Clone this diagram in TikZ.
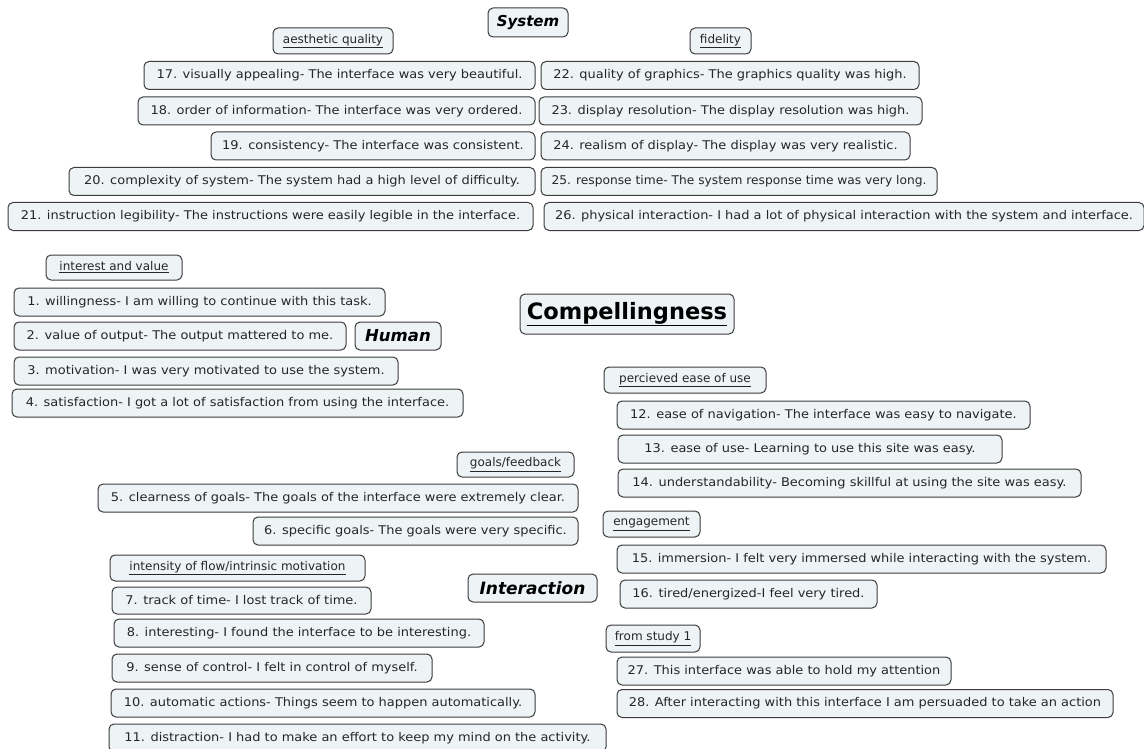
\documentclass[tikz,border=0pt]{standalone}
\usepackage{fontspec}
\setmainfont{DejaVu Sans}
\newfontfamily\itemfont[FakeStretch=1.08]{DejaVu Sans}
\newfontfamily\narrowfont[FakeStretch=1.02]{DejaVu Sans}
\definecolor{boxfill}{HTML}{EEF3F5}
\definecolor{boxline}{HTML}{3C3C3C}
\definecolor{txt}{HTML}{262626}
\tikzset{
  item/.style={draw=boxline, fill=boxfill, rounded corners=5pt, line width=1pt,
    minimum height=28pt, inner xsep=0pt, inner ysep=0pt, text=txt,
    font=\itemfont\fontsize{12}{14}\selectfont},
  nitem/.style={item, font=\narrowfont\fontsize{12}{14}\selectfont},
  head/.style={item, minimum height=26pt, font=\fontsize{12}{14}\selectfont},
  cat/.style={item, font=\fontsize{15}{17}\selectfont\bfseries\itshape, text=black},
  title/.style={item, minimum height=40pt, font=\fontsize{22.5}{26}\selectfont\bfseries, text=black}
}
\newcommand{\ul}[1]{\underline{#1}}
\begin{document}
\begin{tikzpicture}[x=1pt,y=-1pt]
\useasboundingbox (0,0) rectangle (1144,749);
\fill[white] (0,0) rectangle (1144,749);
% System
\node[cat, minimum width=80pt, minimum height=29pt] (sys) at (528,22.5) {System};
\node[head, minimum width=120pt] (aes) at (333,41) {\ul{aesthetic quality}};
\node[head, minimum width=61pt] (fid) at (720.5,41) {\ul{fidelity}};
\node[item, minimum width=391pt] (q17) at (339.5,75.5) {17. visually appealing- The interface was very beautiful.};
\node[item, minimum width=397pt] (q18) at (336.5,111) {18. order of information- The interface was very ordered.};
\node[item, minimum width=324pt] (q19) at (373,146) {19. consistency- The interface was consistent.};
\node[item, minimum width=466pt] (q20) at (302,181.5) {20. complexity of system- The system had a high level of difficulty.};
\node[item, minimum width=525pt] (q21) at (270.5,216.5) {21. instruction legibility- The instructions were easily legible in the interface.};
\node[item, minimum width=378pt] (q22) at (730,75.5) {22. quality of graphics- The graphics quality was high.};
\node[item, minimum width=383pt] (q23) at (730.5,111) {23. display resolution- The display resolution was high.};
\node[item, minimum width=369pt] (q24) at (725.5,146) {24. realism of display- The display was very realistic.};
\node[nitem, minimum width=396pt] (q25) at (739,181.5) {25. response time- The system response time was very long.};
\node[item, minimum width=600pt] (q26) at (844,216.5) {26. physical interaction- I had a lot of physical interaction with the system and interface.\hspace{6pt}};
% Human
\node[head, minimum width=136pt, minimum height=25pt] (int) at (114,267.5) {\ul{interest and value}};
\node[item, minimum width=371pt] (q1) at (199.5,302) {1. willingness- I am willing to continue with this task.};
\node[item, minimum width=332pt] (q2) at (180,336) {2. value of output- The output mattered to me.};
\node[cat, minimum width=86pt, font=\fontsize{16.5}{19}\selectfont\bfseries\itshape] (hum) at (398,336) {Human};
\node[item, minimum width=384pt] (q3) at (206,371) {3. motivation- I was very motivated to use the system.};
\node[item, minimum width=451pt] (q4) at (237.5,403) {4. satisfaction- I got a lot of satisfaction from using the interface.};
% Title
\node[title, minimum width=214pt] (comp) at (627,314) {\ul{Compellingness}};
% Interaction
\node[head, minimum width=162pt] (peou) at (685,380) {\ul{percieved ease of use}};
\node[item, minimum width=413pt] (q12) at (823.5,415) {12. ease of navigation- The interface was easy to navigate.};
\node[item, minimum width=384pt] (q13) at (810,449) {13. ease of use- Learning to use this site was easy.};
\node[item, minimum width=463pt] (q14) at (849.5,483) {14. understandability- Becoming skillful at using the site was easy.};
\node[head, minimum width=117pt, minimum height=25pt] (gf) at (515.5,464.5) {\ul{goals/feedback}};
\node[item, minimum width=480pt] (q5) at (338,498) {5. clearness of goals- The goals of the interface were extremely clear.};
\node[item, minimum width=325pt] (q6) at (415.5,531) {6. specific goals- The goals were very specific.};
\node[head, minimum width=97pt] (eng) at (651.5,524) {\ul{engagement}};
\node[head, minimum width=255pt] (flow) at (237.5,568) {\ul{intensity of flow/intrinsic motivation}};
\node[item, minimum width=259pt, minimum height=27pt] (q7) at (241.5,600.5) {7. track of time- I lost track of time.};
\node[cat, minimum width=129pt, font=\fontsize{17}{20}\selectfont\bfseries\itshape] (inter) at (532.5,588) {Interaction};
\node[item, minimum width=489pt] (q15) at (861.5,559) {15. immersion- I felt very immersed while interacting with the system.};
\node[item, minimum width=257pt] (q16) at (748.5,594) {16. tired/energized-I feel very tired.};
\node[head, minimum width=94pt, minimum height=27pt] (s1) at (653,638.5) {\ul{from study 1}};
\node[item, minimum width=334pt] (q27) at (784,671) {27. This interface was able to hold my attention};
\node[item, minimum width=370pt] (q8) at (299,633) {8. interesting- I found the interface to be interesting.};
\node[item, minimum width=320pt] (q9) at (272,668) {9. sense of control- I felt in control of myself.};
\node[item, minimum width=424pt] (q10) at (323,703) {10. automatic actions- Things seem to happen automatically.};
\node[item, minimum width=497pt] (q11) at (357.5,738) {11. distraction- I had to make an effort to keep my mind on the activity.};
\node[item, minimum width=496pt] (q28) at (865,703.5) {28. After interacting with this interface I am persuaded to take an action};
\end{tikzpicture}
\end{document}
